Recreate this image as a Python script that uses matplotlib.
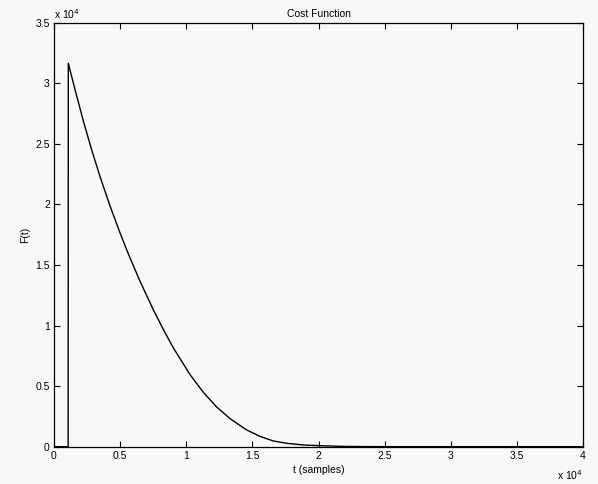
import matplotlib
matplotlib.use("Agg")
import matplotlib.pyplot as plt
from matplotlib.ticker import FuncFormatter

# data (t in samples, F in cost units)
t = [0, 10, 1070, 1081, 1588, 2216, 2851, 3478, 4234, 4991, 5618, 6503, 7509,
     8265, 9021, 10284, 11289, 12303, 13308, 14064, 14571, 15577, 16582,
     17595, 18850, 20113, 22000, 25000, 30000, 35000, 40000]
F = [32300, 0, 0, 31660, 29480, 26900, 24490, 22300, 19880, 17650, 15920,
     13660, 11300, 9680, 8160, 5950, 4490, 3270, 2320, 1750, 1380, 850, 470,
     280, 140, 80, 20, 0, 0, 0, 0]

xticks = [0, 5000, 10000, 15000, 20000, 25000, 30000, 35000, 40000]
yticks = [0, 5000, 10000, 15000, 20000, 25000, 30000, 35000]

plt.rcParams['font.family'] = ['Liberation Sans', 'DejaVu Sans']
fig = plt.figure(figsize=(5.98, 4.84), dpi=100, facecolor='#f8f8f8')
ax = fig.add_axes([0.0903, 0.0771, 0.8847, 0.8760])
ax.set_facecolor('#f8f8f8')
ax.plot(t, F, color='black', lw=1.0)
ax.set_xlim(0, 40000)
ax.set_ylim(0, 35000)
ax.set_xticks(xticks)
ax.set_yticks(yticks)
fmt = FuncFormatter(lambda v, p: ('%g' % (v / 1e4)))
ax.xaxis.set_major_formatter(fmt)
ax.yaxis.set_major_formatter(fmt)
ax.tick_params(direction='in', top=True, right=True, length=4, width=0.8,
               labelsize=7.5, pad=3)
for s in ax.spines.values():
    s.set_linewidth(0.9)
ax.set_title('Cost Function', fontsize=7.5, pad=4)
ax.set_xlabel('t (samples)', fontsize=7.5, labelpad=3)
ax.set_ylabel('F(t)', fontsize=7.5, labelpad=4)
ax.text(0.0, 1.005, r'x 10$^4$', transform=ax.transAxes, fontsize=7.5,
        ha='left', va='bottom')
ax.text(1.0, -0.068, r'x 10$^4$', transform=ax.transAxes, fontsize=7.5,
        ha='right', va='center')
fig.savefig('out.png', dpi=100, facecolor=fig.get_facecolor())
